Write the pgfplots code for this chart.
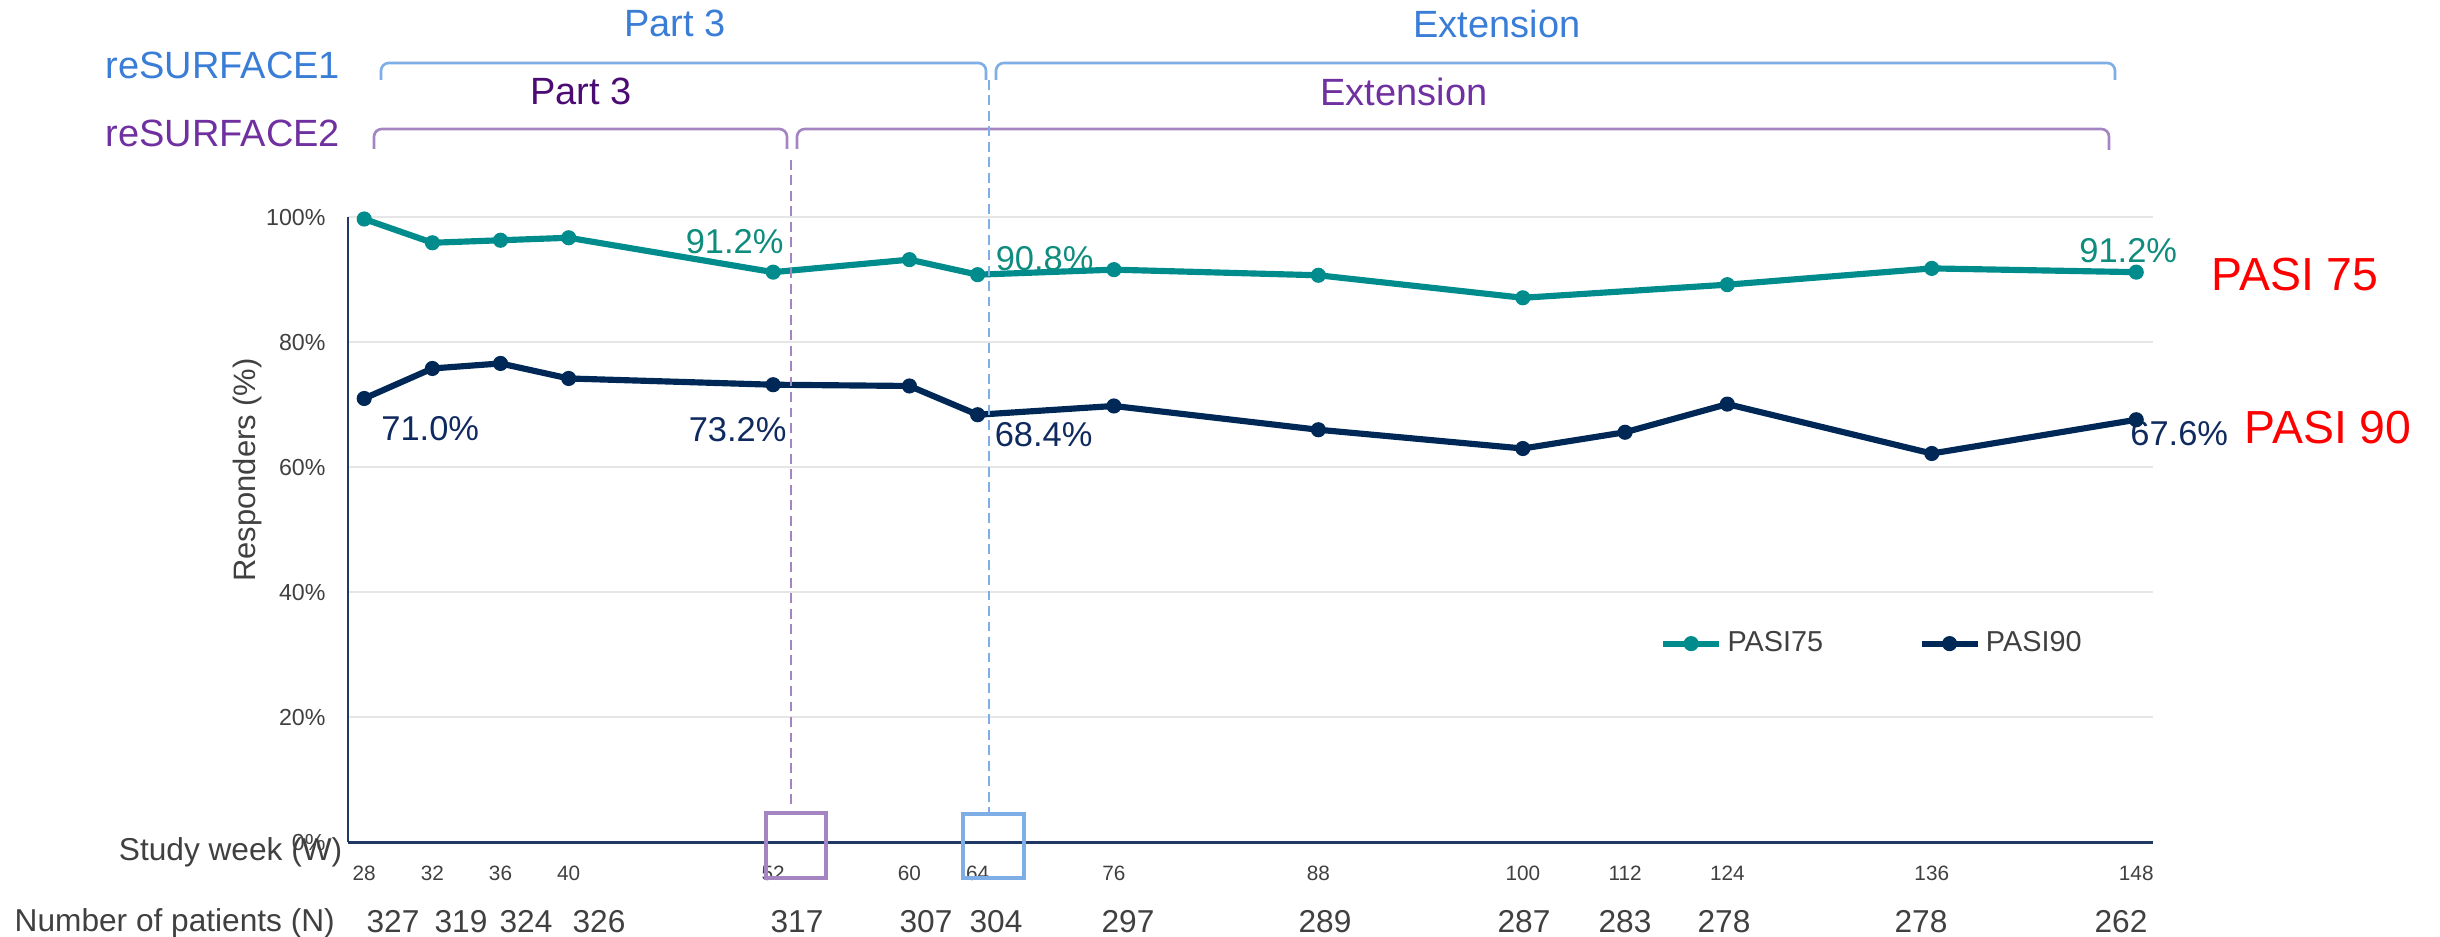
\documentclass[border=0pt]{standalone}
\usepackage{fontspec}
\setmainfont{Liberation Sans}
\usepackage{pgfplots}
\usepackage{pgfplotstable}
\pgfplotsset{compat=1.18}

\definecolor{pasiteal}{HTML}{008C8C}
\definecolor{pasinavy}{HTML}{002856}
\definecolor{tealtext}{HTML}{0E8C7E}
\definecolor{navytext}{HTML}{0F2A5E}
\definecolor{gridgray}{HTML}{E6E6E6}
\definecolor{txtgray}{HTML}{404040}
\definecolor{axisnavy}{HTML}{1F3864}
\definecolor{studyblue}{HTML}{3A7DD6}
\definecolor{bracketblue}{HTML}{7FAEE6}
\definecolor{studypurple}{HTML}{7030A0}
\definecolor{partpurple}{HTML}{4C0B72}
\definecolor{bracketpurple}{HTML}{A584C2}
\definecolor{pasired}{HTML}{FF0000}

\newcommand{\fs}[1]{\fontsize{#1}{#1}\selectfont}

% x position of each visit on the time axis, responder rates in %
\pgfplotstableread{
pos   val
0     99.7
1     95.9
2     96.3
3     96.7
6     91.2
8     93.2
9     90.8
11    91.6
14    90.7
17    87.1
20    89.2
23    91.8
26    91.2
}\pasiA

\pgfplotstableread{
pos   val
0     71.0
1     75.8
2     76.6
3     74.2
6     73.2
8     73.0
9     68.4
11    69.8
14    66.0
17    63.0
18.5  65.6
20    70.1
23    62.2
26    67.6
}\pasiB

\begin{document}
\begin{tikzpicture}[x=0.01cm,y=-0.01cm]
\useasboundingbox (0,0) rectangle (2440,937);

\begin{axis}[
  at={(3.48cm,-8.42cm)}, anchor=south west,
  scale only axis, width=18.04cm, height=6.25cm,
  xmin=-0.235, xmax=26.25, ymin=0, ymax=100,
  clip=false,
  axis lines*=left,
  axis line style={axisnavy, line width=0.5pt},
  x axis line style={line width=0.85pt},
  /pgf/number format/assume math mode=true,
  xtick={0,1,2,3,6,8,9,11,14,17,18.5,20,23,26},
  xticklabels={28,32,36,40,52,60,64,76,88,100,112,124,136,148},
  ytick={0,20,40,60,80,100},
  yticklabel={\pgfmathprintnumber{\tick}\%},
  major tick length=0pt,
  xtick style={draw=none}, ytick style={draw=none},
  xticklabel style={anchor=base, inner sep=0pt, yshift=-0.38cm,
    font=\fs{5.9pt}, text=txtgray},
  yticklabel style={anchor=east, inner sep=0pt, xshift=-0.22cm,
    font=\fs{6.6pt}, text=txtgray},
  ymajorgrids,
  major grid style={gridgray, line width=0.6pt},
  legend columns=2,
  legend style={at={(rel axis cs:0.845,0.318)}, anchor=center,
    draw=none, fill=none, font=\fs{8.2pt}, text=txtgray,
    nodes={inner sep=1.5pt},
    /tikz/every even column/.append style={column sep=0.9cm}},
  legend image code/.code={\draw[mark repeat=2,mark phase=2,#1]
    plot coordinates {(0cm,0cm) (0.28cm,0cm) (0.56cm,0cm)};},
]
\addplot[pasiteal, line width=1.75pt, mark=*, mark size=1.95pt,
  mark options={solid, line width=0.4pt, fill=pasiteal}]
  table[x=pos, y=val] {\pasiA};
\addlegendentry{PASI75}
\addplot[pasinavy, line width=1.75pt, mark=*, mark size=1.95pt,
  mark options={solid, line width=0.4pt, fill=pasinavy}]
  table[x=pos, y=val] {\pasiB};
\addlegendentry{PASI90}

% value labels
\node[tealtext, font=\fs{9.8pt}, xshift=-0.385cm, yshift=0.307cm] at (axis cs:6,91.2) {91.2\%};
\node[tealtext, font=\fs{9.8pt}, xshift=0.67cm, yshift=0.165cm] at (axis cs:9,90.8) {90.8\%};
\node[tealtext, font=\fs{9.8pt}, xshift=-0.08cm, yshift=0.22cm] at (axis cs:26,91.2) {91.2\%};
\node[navytext, font=\fs{9.8pt}, xshift=0.66cm, yshift=-0.30cm] at (axis cs:0,71.0) {71.0\%};
\node[navytext, font=\fs{9.8pt}, xshift=-0.355cm, yshift=-0.445cm] at (axis cs:6,73.2) {73.2\%};
\node[navytext, font=\fs{9.8pt}, xshift=0.66cm, yshift=-0.20cm] at (axis cs:9,68.4) {68.4\%};
\node[navytext, font=\fs{9.8pt}, xshift=0.43cm, yshift=-0.14cm] at (axis cs:26,67.6) {67.6\%};
\end{axis}

% series names at the right
\node[anchor=base west, inner sep=0pt, pasired, font=\fs{13.2pt}] at (2211,291) {PASI 75};
\node[anchor=base west, inner sep=0pt, pasired, font=\fs{13.2pt}] at (2244,443) {PASI 90};

% axis titles
\node[rotate=90, anchor=base, inner sep=0pt, txtgray, font=\fs{8.8pt}] at (255,470) {Responders (\%)};
\node[anchor=base east, inner sep=0pt, txtgray, font=\fs{9pt}] at (343,860) {Study week (W)};
\node[anchor=base west, inner sep=0pt, txtgray, font=\fs{9pt}] at (14,931) {Number of patients (N)};

% number of patients at each visit
\foreach \xx/\nn in {393/327, 461/319, 526/324, 599/326, 797/317, 926/307, 996/304,
  1128/297, 1325/289, 1524/287, 1625/283, 1724/278, 1921/278, 2121/262}
  \node[anchor=base, inner sep=0pt, txtgray, font=\fs{9pt}] at (\xx,932) {\nn};

% study periods
\node[anchor=base, inner sep=0pt, studyblue, font=\fs{10.8pt}] at (675,37) {Part 3};
\node[anchor=base, inner sep=0pt, studyblue, font=\fs{10.8pt}] at (1497,38) {Extension};
\node[anchor=base west, inner sep=0pt, studyblue, font=\fs{10.8pt}] at (105,79) {reSURFACE1};
\node[anchor=base, inner sep=0pt, partpurple, font=\fs{10.8pt}] at (581,105) {Part 3};
\node[anchor=base, inner sep=0pt, studypurple, font=\fs{10.8pt}] at (1404,106) {Extension};
\node[anchor=base west, inner sep=0pt, studypurple, font=\fs{10.8pt}] at (105,147) {reSURFACE2};

\begin{scope}[line width=0.75pt, rounded corners=2.2pt]
  \draw[bracketblue] (381,80) -- (381,63) -- (986,63) -- (986,80);
  \draw[bracketblue] (996,80) -- (996,63) -- (2115,63) -- (2115,80);
  \draw[bracketpurple] (374,149) -- (374,129) -- (787,129) -- (787,149);
  \draw[bracketpurple] (797,149) -- (797,129) -- (2109,129) -- (2109,150);
\end{scope}

% end of Part 3 markers
\draw[bracketpurple, line width=0.7pt, dash pattern=on 2.8pt off 1.6pt] (791,160) -- (791,805);
\draw[bracketblue, line width=0.7pt, dash pattern=on 2.8pt off 1.6pt] (989,80) -- (989,816);
\draw[bracketpurple, line width=0.9pt] (766,813) rectangle (826,878);
\draw[bracketblue, line width=0.9pt] (963,814) rectangle (1024,878);
\end{tikzpicture}
\end{document}
